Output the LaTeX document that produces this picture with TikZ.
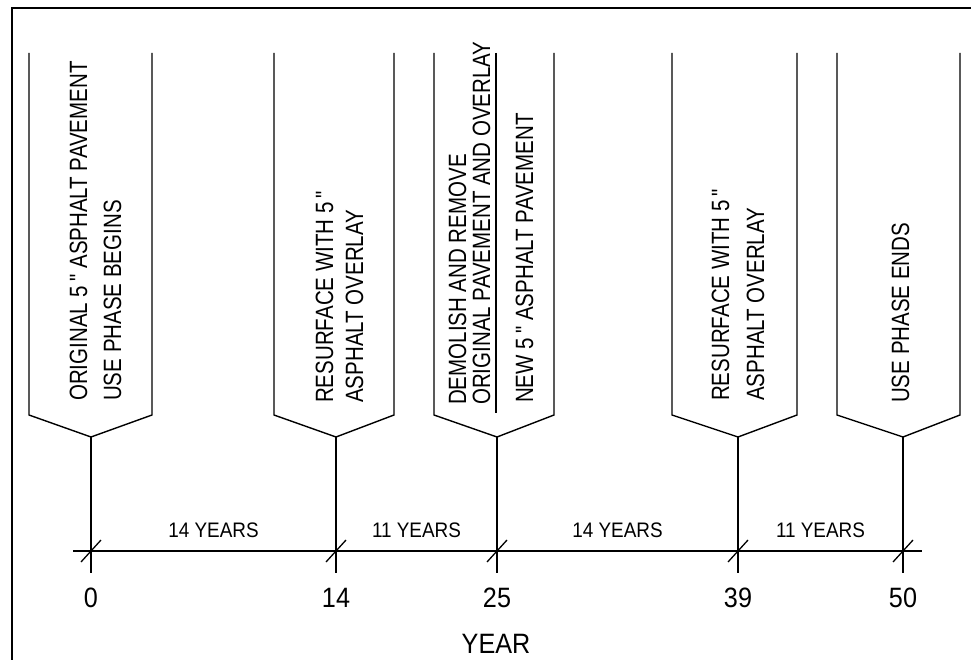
\documentclass[tikz,border=0pt]{standalone}
\usepackage{fontspec}
\setmainfont{Liberation Sans}
\newfontfamily\bannerfont[FakeStretch=0.82]{Liberation Sans}
\newfontfamily\labelfont[FakeStretch=0.9]{Liberation Sans}
\usetikzlibrary{arrows}

\tikzset{
  bannerline/.style={line width=1.4pt, line join=miter},
  stemline/.style={line width=1.3pt},
  bannertext/.style={rotate=90, anchor=base west, inner sep=0pt,
    font=\bannerfont\fontsize{25}{25}\selectfont},
  spanlabel/.style={anchor=base, inner sep=0pt,
    font=\labelfont\fontsize{21}{21}\selectfont},
  yearnum/.style={anchor=base, inner sep=0pt,
    font=\labelfont\fontsize{28}{28}\selectfont}
}

\begin{document}
\begin{tikzpicture}[x=1pt,y=-1pt]
\useasboundingbox (0,0) rectangle (971,660);
\draw[line width=2pt] (12,660) -- (12,8) -- (971,8);

\foreach \l/\r/\t/\yr [count=\i] in {29/152/91/0, 274/394/336/14, 434/554/497/25, 672/797/738/39, 837/960/903/50}{
  \draw[bannerline] (\l,53) -- (\l,415) -- (\t,437) coordinate (tip\i) -- (\r,415) -- (\r,53);
  \coordinate (tick\i) at (\t,551);
  \coordinate (foot\i) at (\t,573);
  \draw[stemline] (tip\i) -- (foot\i);
  \draw[stemline] (tick\i) ++(-10,11) -- ++(20,-22);
  \node[yearnum] (yr\i) at (\t,607) {\yr};
}

\coordinate (axisstart) at (73,551);
\coordinate (axisend) at (922,551);
\draw[stemline] (axisstart) -- (axisend);

\path (tick1) -- (tick2) node[spanlabel, midway, yshift=14pt] (span1) {14 YEARS};
\path (tick2) -- (tick3) node[spanlabel, midway, yshift=14pt] (span2) {11 YEARS};
\path (tick3) -- (tick4) node[spanlabel, midway, yshift=14pt] (span3) {14 YEARS};
\path (tick4) -- (tick5) node[spanlabel, midway, yshift=14pt] (span4) {11 YEARS};

\node[yearnum] (yearlabel) at (496,653) {YEAR};

\node[bannertext] (orig) at (87,401) {ORIGINAL 5\," ASPHALT PAVEMENT};
\node[bannertext] (usebegins) at (121,401) {USE PHASE BEGINS};

\node[bannertext] (resurfA) at (333,403) {RESURFACE WITH 5\,"};
\node[bannertext] (overlayA) at (363,403) {ASPHALT OVERLAY};

\draw[bannerline] (496,53) -- (496,413);
\node[bannertext] (demolish) at (466,405) {DEMOLISH AND REMOVE};
\node[bannertext] (origover) at (490,405) {ORIGINAL PAVEMENT AND OVERLAY};
\node[bannertext] (newpave) at (533,403) {NEW 5\," ASPHALT PAVEMENT};

\node[bannertext] (resurfB) at (729,401) {RESURFACE WITH 5\,"};
\node[bannertext] (overlayB) at (764,401) {ASPHALT OVERLAY};

\node[bannertext] (useends) at (909,403) {USE PHASE ENDS};
\end{tikzpicture}
\end{document}
